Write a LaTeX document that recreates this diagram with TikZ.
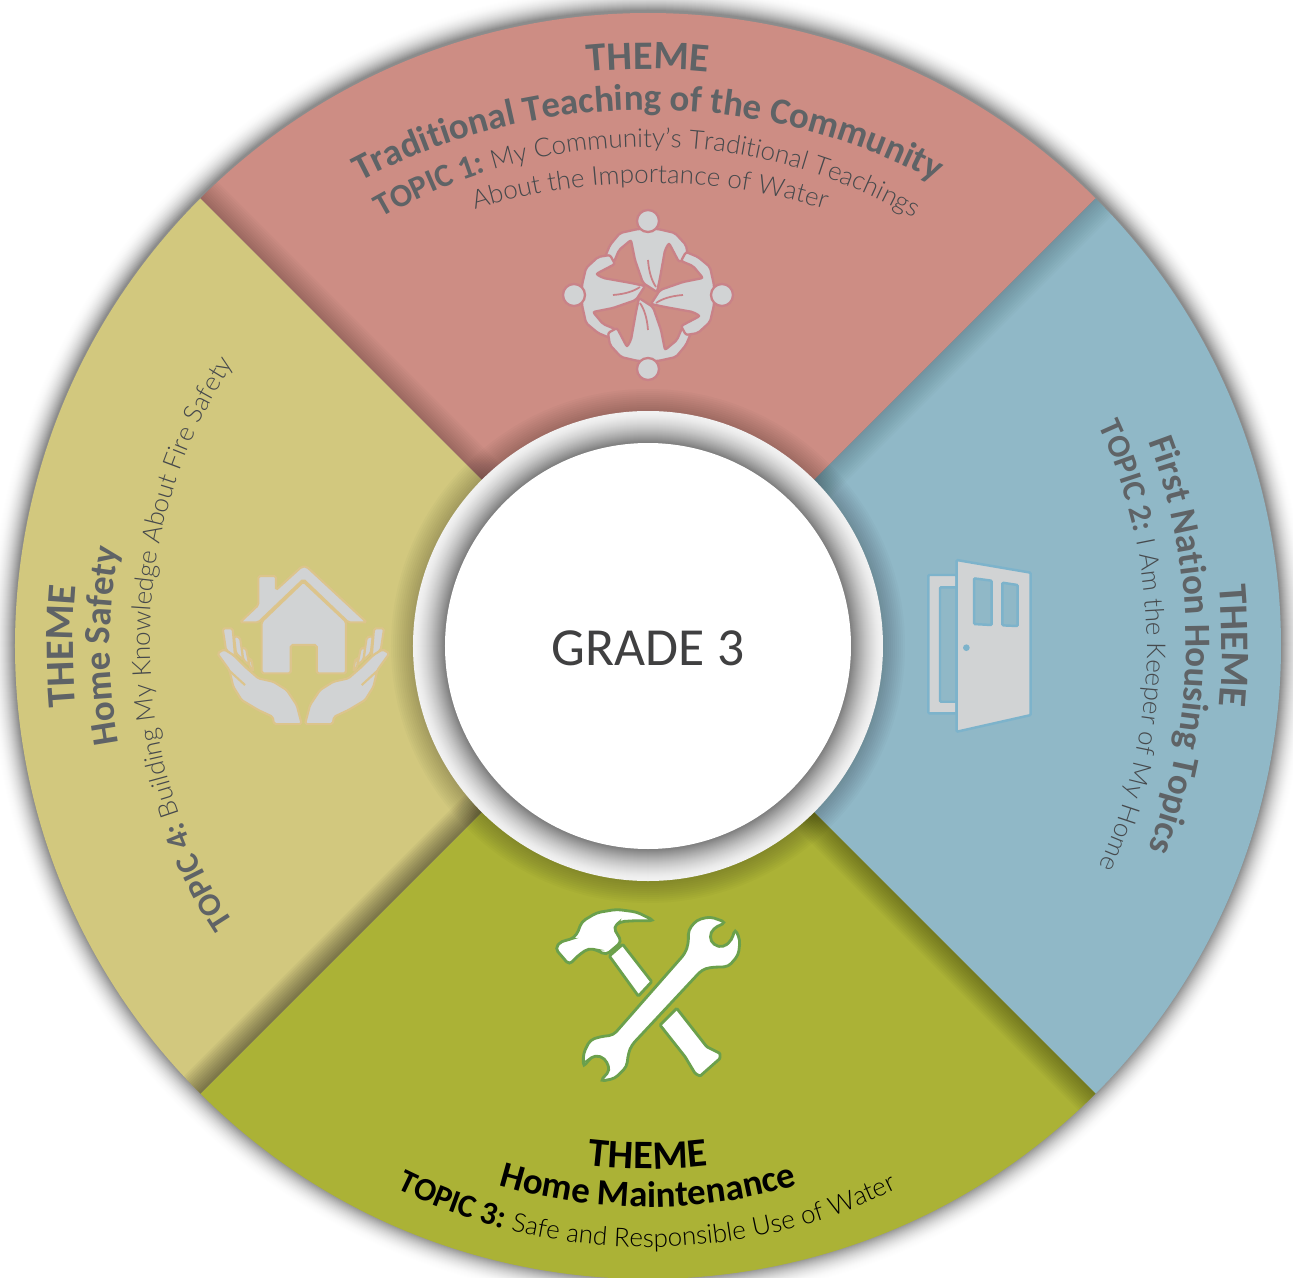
\documentclass[tikz,border=0pt]{standalone}
\usepackage{fontspec}
\setmainfont{Carlito}
\newfontfamily\lightface{Lato Light}
\usetikzlibrary{decorations.text}

\definecolor{wedgered}{HTML}{CD8D84}
\definecolor{wedgeblue}{HTML}{90B8C7}
\definecolor{wedgegreen}{HTML}{ABB236}
\definecolor{wedgeyellow}{HTML}{D2C87E}
\definecolor{labelgray}{HTML}{5F6366}
\definecolor{bodygray}{HTML}{46494C}
\definecolor{gradegray}{HTML}{404041}
\definecolor{icongray}{HTML}{D1D3D4}
\definecolor{hammergreen}{HTML}{6BA04C}
\definecolor{housetan}{HTML}{DCC48C}
\definecolor{doorblue}{HTML}{7DB3CB}
\definecolor{peoplepink}{HTML}{C98288}

\newcommand\themefont{\fontsize{23}{23}\selectfont\bfseries}
\newcommand\titlefont{\fontsize{21}{21}\selectfont\bfseries}
\newcommand\topicfont{\fontsize{18.5}{18.5}\selectfont\bfseries}
\newcommand\bodyfont{\fontsize{14.8}{14.8}\selectfont\lightface}

% center, start angle, end angle, radius, text
\newcommand\arcline[5]{\path[decorate,decoration={text along path,text align=center,text={#5}}] (#1) ++(#2:#4) arc (#2:#3:#4);}
\newcommand\sectorpath[2]{(0,0) -- (#1:633) arc (#1:#2:633) -- cycle}
% one sector with the shadow of its neighbour along one edge
\newcommand\sector[5]{
    \fill[#3] \sectorpath{#1}{#2};
    \begin{scope}
        \clip \sectorpath{#1}{#2};
        \foreach \w in {2,4,...,24}
            \fill[black,opacity=#5,rotate=#4] (0,-\w) rectangle (700,\w);
        \foreach \r in {237,239,...,257}
            \fill[black,opacity=.02] (0,0) circle (\r);
    \end{scope}
}
\newcommand\carehand{
    \draw[housepart] (68,235) -- (98,235) -- (105,320) -- (78,300) -- cycle;
    \draw[housepart] (102,258) -- (120,262) -- (130,330) -- (108,310) -- cycle;
    \draw[housepart] (125,292) -- (138,295) -- (148,345) -- (130,330) -- cycle;
    \draw[housepart] (147,325) -- (155,330) -- (160,365) -- (148,350) -- cycle;
    \draw[housepart] (52,310) -- (72,298) -- (100,315) -- (135,350) -- (175,385) -- (220,395)
        -- (260,420) -- (290,465) -- (305,522) -- (222,522) -- (218,500) -- (175,480)
        -- (125,450) -- (100,410) -- (88,360) -- cycle;
    \draw[houseline] (88,362) -- (135,405);
}

\tikzset{
    gradelabel/.style={font=\fontsize{30.5}{30.5}\selectfont,text=gradegray},
    hammerpart/.style={draw=hammergreen,fill=white,line width=1.6pt,rounded corners=2.5pt},
    handlepart/.style={hammerpart,rounded corners=.6pt},
    housepart/.style={draw=housetan,fill=icongray,line width=1.2pt,rounded corners=1pt},
    houseline/.style={draw=housetan,line width=1.2pt},
    doorpart/.style={draw=doorblue,fill=icongray,line width=1.4pt,rounded corners=.6pt},
    peoplepart/.style={draw=peoplepink,fill=icongray,line width=1.3pt,rounded corners=1.2pt},
}

\begin{document}
\begin{tikzpicture}[x=.2mm,y=.2mm]
    \useasboundingbox (-648,-631) rectangle (645,646);

    % outer shadow
    \foreach \r in {660,659,...,634} {
        \pgfmathsetmacro\p{45*((660-\r)/26)^2}
        \fill[black!\p!white] (0,2) circle (\r);
    }

    % sectors
    \sector{135}{45}{wedgered}{135}{.018}
    \sector{45}{-45}{wedgeblue}{45}{.015}
    \sector{315}{225}{wedgegreen}{315}{.028}
    \sector{225}{135}{wedgeyellow}{225}{.04}

    % center
    \foreach \r in {235,234,...,204} {
        \pgfmathsetmacro\p{5+45*((235-\r)/31)^1.5}
        \fill[black!\p!white] (0,0) circle (\r);
    }
    \fill[white] (0,0) circle (203);
    \node[gradelabel] (grade) at (0,-2) {GRADE 3};

    % top sector
    \arcline{0,-23}{180}{0}{600}{|\themefont\color{labelgray}|THEME}
    \arcline{0,-79}{180}{0}{615}{|\titlefont\color{labelgray}|Traditional Teaching of the Community}
    \arcline{0,-34}{180}{0}{533}{|\topicfont\color{labelgray}|TOPIC 1: |||\bodyfont\color{bodygray}|My Community’s Traditional Teachings}
    \arcline{2,-129}{180}{0}{592}{|\bodyfont\color{bodygray}|About the Importance of Water}

    % right sector
    \arcline{-126,0}{90}{-90}{700}{|\themefont\color{labelgray}|THEME}
    \arcline{-36,1}{90}{-90}{574}{|\titlefont\color{labelgray}|First Nation Housing Topics}
    \arcline{-25,0}{90}{-90}{524}{|\topicfont\color{labelgray}|TOPIC 2: |||\bodyfont\color{bodygray}|I Am the Keeper of My Home}

    % bottom sector
    \arcline{0,-23}{180}{360}{500}{|\themefont\color{black}|THEME}
    \arcline{0,-47}{180}{360}{514}{|\titlefont\color{black}|Home Maintenance}
    \arcline{-1,-35}{180}{360}{566}{|\topicfont\color{black}|TOPIC 3: |||\bodyfont\color{black}|Safe and Responsible Use of Water}

    % left sector
    \arcline{125,0}{270}{90}{700}{|\themefont\color{labelgray}|THEME}
    \arcline{-8,0}{270}{90}{530}{|\titlefont\color{labelgray}|Home Safety}
    \arcline{11,3}{270}{90}{509}{|\topicfont\color{labelgray}|TOPIC 4: |||\bodyfont\color{bodygray}|Building My Knowledge About Fire Safety}

    % people
    \begin{scope}[shift={(0,351)}]
        \foreach \a in {0,90,180,270} {
            \begin{scope}[rotate=\a]
                \draw[peoplepart] (-10,66) -- (-28,62) -- (-38,50) -- (-43,38) -- (-34,33) -- (-29,45)
                    -- (-17,55) -- (-13,35) -- (-5,12) -- (9,3) -- (12,17) -- (17,45) -- (21,52)
                    -- (31,33) -- (40,38) -- (38,50) -- (27,62) -- (10,66) -- cycle;
                \draw[peoplepink,line width=1pt] (0,35) .. controls (1,22) and (4,14) .. (8,8);
                \draw[peoplepart] (0,74) circle (11);
            \end{scope}
        }
    \end{scope}

    % door
    \begin{scope}[shift={(252,106)},x=.0667mm,y=-.0667mm]
        \draw[doorpart] (85,105) rectangle (170,520);
        \draw[doorpart,fill=wedgeblue] (120,142) rectangle (170,485);
        \draw[doorpart] (170,60) -- (392,98) -- (392,525) -- (170,575) -- cycle;
        \draw[doorpart,fill=wedgeblue] (222,115) -- (275,122) -- (275,255) -- (222,252) -- cycle;
        \draw[doorpart,fill=wedgeblue] (307,128) -- (353,135) -- (353,258) -- (307,256) -- cycle;
        \fill[doorblue] (199,323) circle (10);
    \end{scope}

    % hammer and wrench
    \begin{scope}[shift={(-128,-244)},x=.0667mm,y=-.0667mm]
        \draw[hammerpart] (403,92) -- (350,66) -- (290,58) -- (230,68) -- (185,95) -- (170,135)
            -- (150,150) -- (125,152) -- (105,175) -- (148,225) -- (170,200) -- (205,175)
            -- (230,180) -- (258,195) -- (305,155) -- (280,112) -- (300,95) -- (345,92) -- cycle;
        \draw[handlepart] (268,198) -- (308,163) -- (395,275) -- (355,318) -- cycle;
        \draw[handlepart] (420,405) -- (470,355) -- (560,470) -- (600,490) -- (600,505)
            -- (540,558) -- (525,550) -- (495,500) -- cycle;
        \draw[hammerpart] (618,97) -- (570,80) -- (530,90) -- (505,120) -- (505,160) -- (495,190)
            -- (280,435) -- (240,440) -- (210,450) -- (190,490) -- (190,532) -- (205,510)
            -- (225,495) -- (255,505) -- (270,540) -- (240,574) -- (285,565) -- (320,530)
            -- (325,490) -- (335,465) -- (545,240) -- (570,232) -- (625,230) -- (655,195)
            -- (660,150) -- (645,116) -- (635,150) -- (610,172) -- (580,165) -- (568,140)
            -- (580,115) -- cycle;
    \end{scope}

    % house and hands
    \begin{scope}[shift={(-448,96)},x=.0667mm,y=-.0667mm]
        \draw[housepart] (120,217) -- (175,165) -- (175,78) -- (228,78) -- (228,120) -- (305,50)
            -- (320,50) -- (500,217) -- (445,217) -- (310,88) -- (175,217) -- cycle;
        \draw[housepart] (185,215) -- (310,95) -- (438,215) -- (438,370) -- (350,370) -- (350,285)
            -- (272,285) -- (272,370) -- (185,370) -- cycle;
        \carehand
        \begin{scope}[shift={(620,0)},xscale=-1]
            \carehand
        \end{scope}
    \end{scope}
\end{tikzpicture}
\end{document}
